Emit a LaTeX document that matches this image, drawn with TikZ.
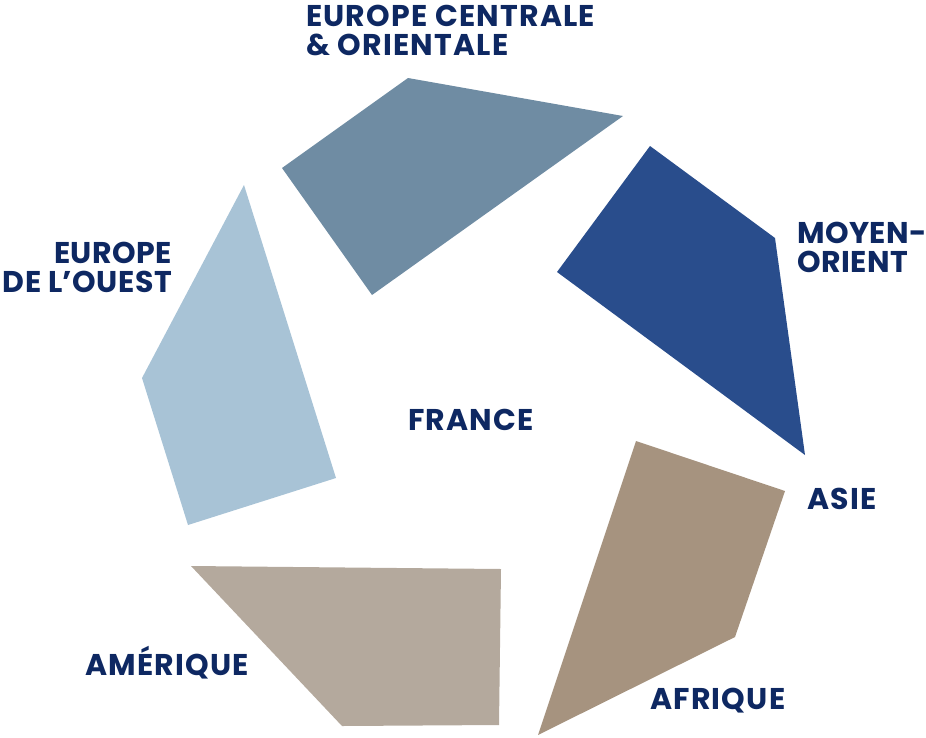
\documentclass[tikz,border=0pt]{standalone}
\usepackage{fontspec}
\setmainfont{Poppins}[LetterSpace=4]
\newfontfamily\tightfont{Poppins}[LetterSpace=1.5]
\definecolor{navy}{HTML}{0E2862}
\definecolor{ceo}{HTML}{6F8CA3}
\definecolor{mo}{HTML}{294D8C}
\definecolor{eo}{HTML}{A8C3D6}
\definecolor{am}{HTML}{B4A99D}
\definecolor{af}{HTML}{A6937F}
\begin{document}
\begin{tikzpicture}[x=1pt,y=-1pt,
  lbl/.style={inner sep=0pt,text=navy,font=\fontsize{30}{28.5}\selectfont\bfseries},
  tightlbl/.style={inner sep=0pt,text=navy,font=\fontsize{30}{28.5}\selectfont\tightfont\bfseries}]
\useasboundingbox (0,0) rectangle (926,737);
% pieces
\fill[ceo] (408,78) -- (623,116) -- (372,295) -- (282,168) -- cycle;
\fill[mo] (650,146) -- (775,238) -- (805,455) -- (557,272) -- cycle;
\fill[eo] (244,185) -- (336,478) -- (188,525) -- (142,378) -- cycle;
\fill[am] (191,566) -- (501,569) -- (499,725) -- (342,726) -- cycle;
\fill[af] (636,441) -- (785,491) -- (735,637) -- (538,735) -- cycle;
% labels (anchor at baseline of last line)
\node[lbl,anchor=base west,align=left] (ceoL) at (306,55) {EUROPE CENTRALE\\\& ORIENTALE};
\node[tightlbl,anchor=base west,align=left] (moL) at (797,272) {MOYEN-\\ORIENT};
\node[tightlbl,anchor=base east,align=right] (eoL) at (172,292) {EUROPE\\DE L’OUEST};
\node[lbl,anchor=base west] (fr) at (408,430) {FRANCE};
\node[lbl,anchor=base west] (as) at (807,509) {ASIE};
\node[lbl,anchor=base west] (amL) at (85,675) {AMÉRIQUE};
\node[lbl,anchor=base west] (afL) at (650,709) {AFRIQUE};
\end{tikzpicture}
\end{document}
